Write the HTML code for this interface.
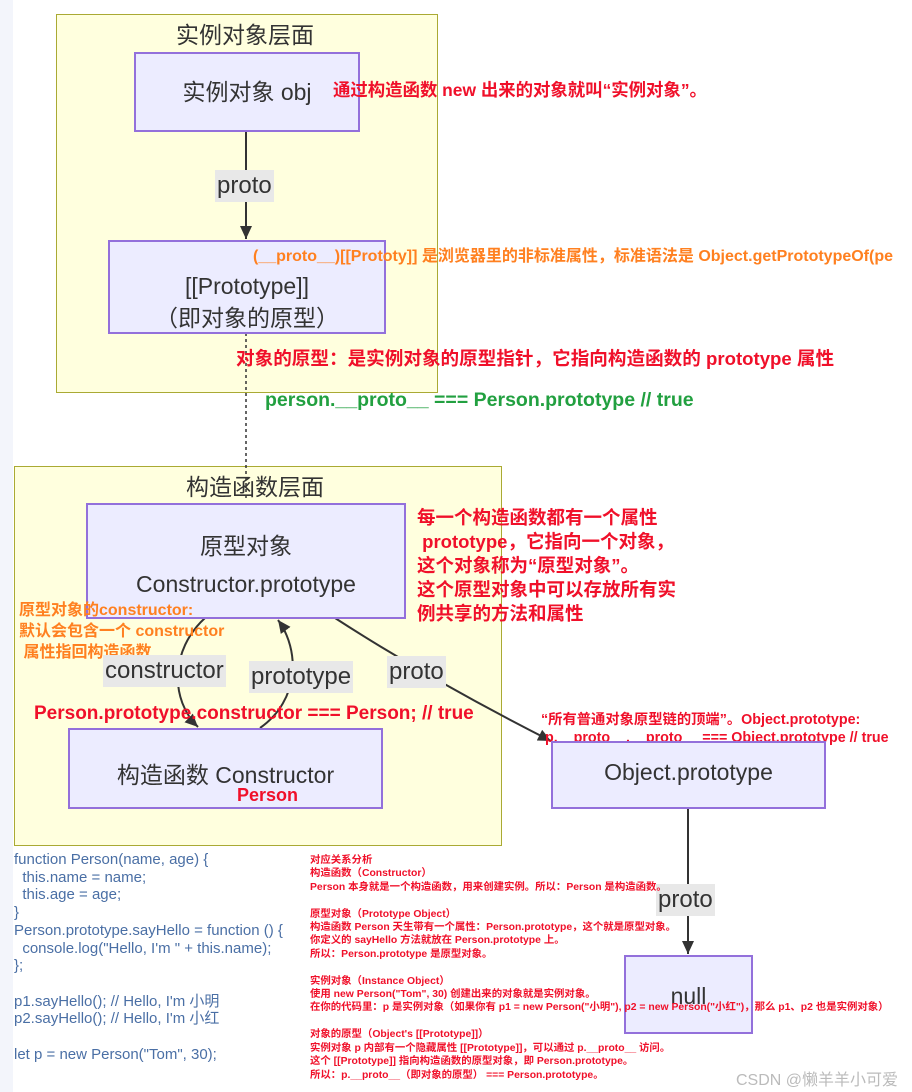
<!DOCTYPE html>
<html><head><meta charset="utf-8"><style>
body{margin:0;width:912px;height:1092px;background:#fff;position:relative;overflow:hidden;font-family:"Liberation Sans","Noto Sans CJK SC",sans-serif}
.a{position:absolute;white-space:nowrap}
.cl{position:absolute;background:#ffffde;border:1px solid #aaaa33}
.bx{position:absolute;background:#ececff;border:2px solid #9370db;box-sizing:border-box;color:#333;text-align:center}
.lb{position:absolute;background:#e8e8e8;color:#333;font-size:24px;padding:2px 2px}
.r{color:#f0102a;font-weight:bold}
.o{color:#ff8020;font-weight:bold}
</style></head><body>
<div class="a" style="left:0;top:0;width:13px;height:1092px;background:#f3f5fb"></div>
<div class="cl" style="left:56px;top:14px;width:380px;height:377px"></div>
<div class="a" style="left:176px;top:16px;font-size:23px;color:#333">实例对象层面</div>
<div class="cl" style="left:14px;top:466px;width:486px;height:378px"></div>
<div class="a" style="left:186px;top:468px;font-size:23px;color:#333">构造函数层面</div>
<svg class="a" style="left:0;top:0" width="912" height="1092">
<defs><marker id="m" markerUnits="userSpaceOnUse" markerWidth="14" markerHeight="14" refX="13" refY="6" orient="auto"><path d="M0,0L13,6L0,12z" fill="#333"/></marker></defs>
<g stroke="#333" stroke-width="2" fill="none">
<line x1="246" y1="131" x2="246" y2="239" marker-end="url(#m)"/>
<line x1="246" y1="333" x2="246" y2="500" stroke-dasharray="3,3" stroke-width="1.5"/>
<path d="M205,618 C170,650 170,700 198,727" marker-end="url(#m)"/>
<path d="M260,728 C300,700 300,650 278,620" marker-end="url(#m)"/>
<path d="M335,618 C400,660 470,700 551,741" marker-end="url(#m)"/>
<line x1="688" y1="808" x2="688" y2="954" marker-end="url(#m)"/>
</g></svg>
<div class="bx" style="left:134px;top:52px;width:226px;height:80px;line-height:76px;font-size:23px">实例对象 obj</div>
<div class="lb" style="left:215px;top:170px">proto</div>
<div class="bx" style="left:108px;top:240px;width:278px;height:94px;font-size:23px;padding-top:28px;line-height:32px">[[Prototype]]<br>（即对象的原型）</div>
<div class="a r" style="left:333px;top:77px;font-size:17.4px">通过构造函数 new 出来的对象就叫“实例对象”。</div>
<div class="a o" style="left:253px;top:242px;font-size:16px">(__proto__)[[Prototy]] 是浏览器里的非标准属性，标准语法是 Object.getPrototypeOf(pe</div>
<div class="a r" style="left:236px;top:344px;font-size:18.6px">对象的原型：是实例对象的原型指针，它指向构造函数的 prototype 属性</div>
<div class="a" style="left:265px;top:389px;font-size:19.5px;font-weight:bold;color:#22a040">person.__proto__ === Person.prototype // true</div>
<div class="bx" style="left:86px;top:503px;width:320px;height:116px;font-size:23px;padding-top:22px;line-height:38px">原型对象<br>Constructor.prototype</div>
<div class="a r" style="left:417px;top:506px;font-size:18.5px;line-height:24px">每一个构造函数都有一个属性<br>&nbsp;prototype，它指向一个对象，<br>这个对象称为“原型对象”。<br>这个原型对象中可以存放所有实<br>例共享的方法和属性</div>
<div class="a o" style="left:19px;top:600px;font-size:16px;line-height:21px">原型对象的constructor:<br>默认会包含一个 constructor<br>&nbsp;属性指回构造函数</div>
<div class="lb" style="left:103px;top:655px">constructor</div>
<div class="lb" style="left:249px;top:661px">prototype</div>
<div class="lb" style="left:387px;top:656px">proto</div>
<div class="a r" style="left:34px;top:703px;font-size:19px">Person.prototype.constructor === Person; // true</div>
<div class="bx" style="left:68px;top:728px;width:315px;height:81px;font-size:23px;padding-top:26px">构造函数 Constructor</div>
<div class="a r" style="left:237px;top:785px;font-size:18px">Person</div>
<div class="a r" style="left:541px;top:711px;font-size:14.3px;line-height:18px">“所有普通对象原型链的顶端”。Object.prototype:<br>&nbsp;p.__proto__.__proto__ === Object.prototype // true</div>
<div class="bx" style="left:551px;top:741px;width:275px;height:68px;font-size:23px;padding-top:16px">Object.prototype</div>
<div class="lb" style="left:656px;top:884px">proto</div>
<div class="bx" style="left:624px;top:955px;width:129px;height:79px;font-size:23px;padding-top:26px">null</div>
<div class="a" style="left:14px;top:851px;font-size:15px;line-height:17.7px;color:#4a6fa5">function Person(name, age) {<br>&nbsp;&nbsp;this.name = name;<br>&nbsp;&nbsp;this.age = age;<br>}<br>Person.prototype.sayHello = function () {<br>&nbsp;&nbsp;console.log("Hello, I'm " + this.name);<br>};<br><br>p1.sayHello(); // Hello, I'm 小明<br>p2.sayHello(); // Hello, I'm 小红<br><br>let p = new Person("Tom", 30);</div>
<div class="a r" style="left:310px;top:854px;font-size:10.4px;line-height:13.4px">对应关系分析<br>构造函数（Constructor）<br>Person 本身就是一个构造函数，用来创建实例。所以：Person 是构造函数。<br><br>原型对象（Prototype Object）<br>构造函数 Person 天生带有一个属性：Person.prototype，这个就是原型对象。<br>你定义的 sayHello 方法就放在 Person.prototype 上。<br>所以：Person.prototype 是原型对象。<br><br>实例对象（Instance Object）<br>使用 new Person("Tom", 30) 创建出来的对象就是实例对象。<br>在你的代码里：p 是实例对象（如果你有 p1 = new Person("小明"), p2 = new Person("小红")，那么 p1、p2 也是实例对象）<br><br>对象的原型（Object's [[Prototype]]）<br>实例对象 p 内部有一个隐藏属性 [[Prototype]]，可以通过 p.__proto__ 访问。<br>这个 [[Prototype]] 指向构造函数的原型对象，即 Person.prototype。<br>所以：p.__proto__（即对象的原型） === Person.prototype。</div>
<div class="a" style="left:736px;top:1066px;font-size:16px;color:#bbb">CSDN @懒羊羊小可爱</div>
</body></html>
